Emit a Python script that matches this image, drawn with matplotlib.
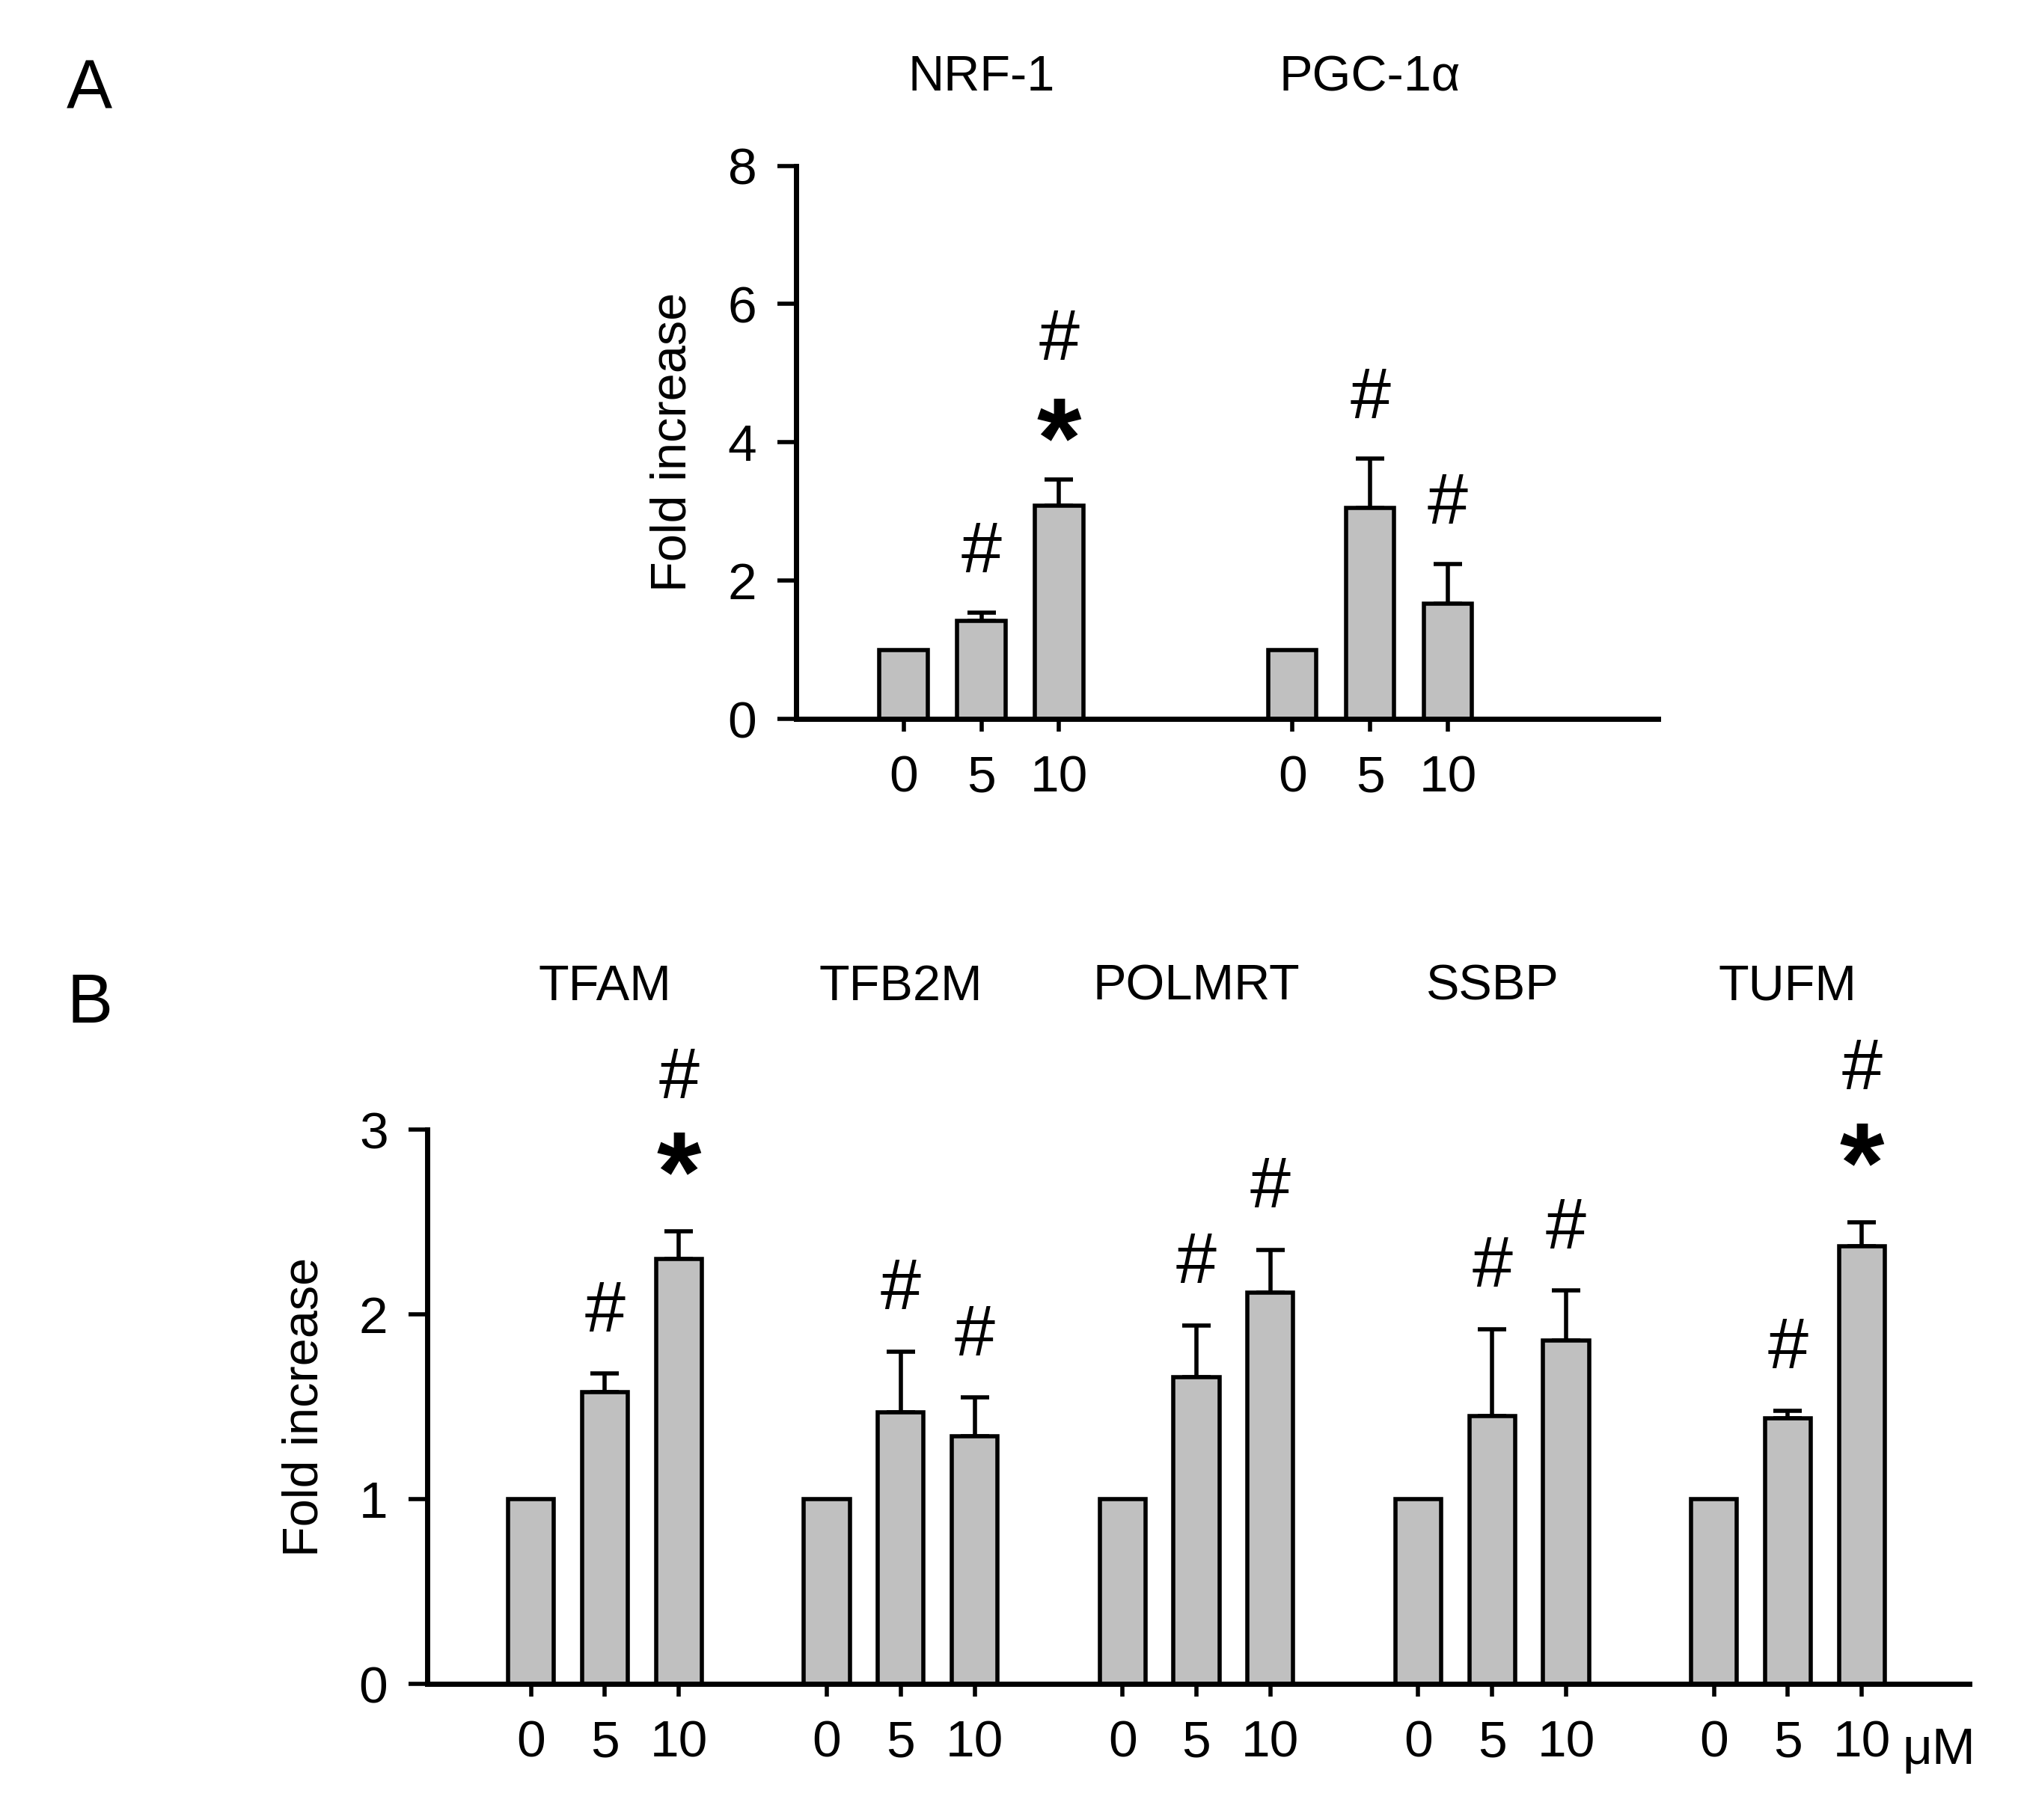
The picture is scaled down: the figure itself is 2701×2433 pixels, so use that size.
import matplotlib
matplotlib.use("Agg")
import matplotlib.pyplot as plt

plt.rcParams["font.family"] = "Liberation Sans"

doses = ["0", "5", "10"]
genes_a = ["NRF-1", "PGC-1α"]
vals_a = [[1, 1.42, 3.08], [1, 3.05, 1.67]]
errs_a = [[0, 0.12, 0.38], [0, 0.72, 0.57]]
marks_a = [["", "#", "*#"], ["", "#", "#"]]

genes_b = ["TFAM", "TFB2M", "POLMRT", "SSBP", "TUFM"]
vals_b = [[1, 1.58, 2.30], [1, 1.47, 1.34], [1, 1.66, 2.12], [1, 1.45, 1.86], [1, 1.44, 2.37]]
errs_b = [[0, 0.10, 0.15], [0, 0.33, 0.21], [0, 0.28, 0.23], [0, 0.47, 0.27], [0, 0.04, 0.13]]
marks_b = [["", "#", "*#"], ["", "#", "#"], ["", "#", "#"], ["", "#", "#"], ["", "#", "*#"]]

fig = plt.figure(figsize=(27.01, 24.33), dpi=100)

def panel(rect, genes, vals, errs, marks, step, ymax, yticks, xlim, title_y,
          hash_off, star_off, hash2_off, last_um=False):
    ax = fig.add_axes(rect)
    pos, labels = [], []
    for g, (v, e, m) in enumerate(zip(vals, errs, marks)):
        xs = [g * step + i for i in range(3)]
        ax.bar(xs, v, width=0.62, color="#c0c0c0", edgecolor="black", linewidth=4, zorder=2)
        for x, vv, ee, mm in zip(xs, v, e, m):
            if ee > 0:
                ax.errorbar(x, vv, yerr=[[0], [ee]], fmt="none", ecolor="black",
                            elinewidth=4, capsize=14, capthick=4, zorder=1)
            top = vv + ee
            if mm == "#":
                ax.text(x, top + hash_off, "#", ha="center", va="center", fontsize=70)
            elif mm == "*#":
                ax.text(x, top + star_off, "*", ha="center", va="center", fontsize=110, fontweight="bold")
                ax.text(x, top + hash2_off, "#", ha="center", va="center", fontsize=70)
        ax.text(g * step + 1, title_y, genes[g], ha="center", va="center", fontsize=48,
                transform=ax.get_xaxis_transform())
        pos += xs
        labels += doses
    ax.set_xticks(pos)
    ax.set_xticklabels(labels, fontsize=50)
    ax.set_xlim(*xlim)
    ax.set_ylim(0, ymax)
    ax.set_yticks(yticks)
    ax.set_yticklabels([str(t) for t in yticks], fontsize=50)
    for s in ["top", "right"]:
        ax.spines[s].set_visible(False)
    for s in ["left", "bottom"]:
        ax.spines[s].set_linewidth(5)
    ax.tick_params(axis="y", length=18, width=4, pad=20)
    ax.tick_params(axis="x", length=12, width=4, pad=22)
    ax.set_ylabel("Fold increase", fontsize=48, labelpad=30)
    if last_um:
        ax.text(pos[-1] + 0.55, -0.076, "μM", ha="left", va="top", fontsize=50,
                transform=ax.get_xaxis_transform())
    return ax

axA = panel([0.394, 0.605, 0.4263, 0.3039], genes_a, vals_a, errs_a, marks_a, 5, 8,
            [0, 2, 4, 6, 8], (-1.38, 9.7), 1.159, 0.85, 0.47, 2.0)
axB = panel([0.2115, 0.0747, 0.7628, 0.3046], genes_b, vals_b, errs_b, marks_b, 4, 3,
            [0, 1, 2, 3], (-1.4, 19.45), 1.257, 0.33, 0.27, 0.82, last_um=True)

fig.text(0.033, 0.95, "A", fontsize=66, va="center")
fig.text(0.033, 0.448, "B", fontsize=66, va="center")

fig.savefig("out.png", dpi=100)
